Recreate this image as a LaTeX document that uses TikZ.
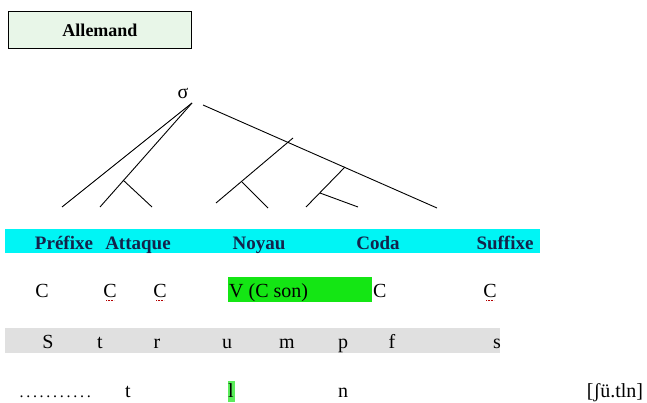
\documentclass[tikz,border=0pt]{standalone}
\usepackage{fontspec}
\setmainfont{Liberation Serif}
\definecolor{navy}{RGB}{20,35,75}
\definecolor{barcyan}{RGB}{0,245,245}
\definecolor{noyaugreen}{RGB}{20,230,20}
\definecolor{bargrey}{RGB}{224,224,224}
\definecolor{titlegreen}{RGB}{232,246,232}

\begin{document}
\begin{tikzpicture}[x=1pt,y=-1pt,
  lab/.style={font=\bfseries\fontsize{19}{22}\selectfont, text=navy, inner sep=0pt, anchor=base},
  seg/.style={font=\fontsize{20}{23}\selectfont, inner sep=0pt, anchor=base},
  branche/.style={line width=0.9pt, black}]
  \useasboundingbox (0,0) rectangle (647,403);

  % titre
  \node[draw, line width=1.2pt, fill=titlegreen, minimum width=183pt, minimum height=37pt,
        font=\bfseries\fontsize{18}{21}\selectfont] (titre) at (100,30) {Allemand};

  % arbre
  \node[seg] (sigma) at (183,99) {σ};
  \coordinate (s1) at (192,103);
  \coordinate (s2) at (203,105);
  \coordinate (pre) at (62,207);
  \coordinate (att) at (100,207);
  \coordinate (b1) at (123,180);
  \coordinate (att2) at (152,207);
  \coordinate (rime) at (437,208);
  \coordinate (n0) at (293,138);
  \coordinate (noy) at (216,203);
  \coordinate (b2) at (242,182);
  \coordinate (noy2) at (268,208);
  \coordinate (b3) at (345,167);
  \coordinate (cod) at (306,207);
  \coordinate (b4) at (320,193);
  \coordinate (cod2) at (358,207);
  \draw[branche] (s1) -- (pre);
  \draw[branche] (s1) -- (att);
  \draw[branche] (b1) -- (att2);
  \draw[branche] (s2) -- (rime);
  \draw[branche] (n0) -- (noy);
  \draw[branche] (b2) -- (noy2);
  \draw[branche] (b3) -- (cod);
  \draw[branche] (b4) -- (cod2);

  % constituants
  \fill[barcyan] (5,229) rectangle (540,253);
  \node[lab] (prefixe) at (64,249) {Préfixe};
  \node[lab] (attaque) at (138,249) {Attaque};
  \node[lab] (noyau) at (259,249) {Noyau};
  \node[lab] (coda) at (378,249) {Coda};
  \node[lab] (suffixe) at (505,249) {Suffixe};

  % squelette
  \fill[noyaugreen] (228,277) rectangle (372,302);
  \node[seg] (c1) at (42,297) {C};
  \node[seg] (c2) at (110,297) {C};
  \node[seg] (c3) at (160,297) {C};
  \node[seg, anchor=base west] (v) at (229,297) {V (C son)};
  \node[seg, anchor=base west] (c4) at (373,297) {C};
  \node[seg] (c5) at (490,297) {C};
  \foreach \c in {c2,c3,c5}
    \draw[red!70!black, densely dotted, line width=0.6pt]
      ([xshift=-4pt,yshift=-3pt]\c.base) -- ([xshift=4pt,yshift=-3pt]\c.base);

  % segments
  \fill[bargrey] (5,328) rectangle (500,353);
  \foreach \x/\l/\n in {48/S/sa, 100/t/sb, 157/r/sc, 227/u/sd, 287/m/se, 343/p/sf, 392/f/sg, 497/s/sh}
    \node[seg] (\n) at (\x,348) {\l};

  % forme
  \fill[noyaugreen!70] (228,381) rectangle (235,402);
  \node[seg, anchor=base west, font=\fontsize{16}{19}\selectfont] (points) at (18,397)
    {\hbox to 74pt{\xleaders\hbox to 6.7pt{\hss.\hss}\hfill}};
  \node[seg] (ft) at (128,397) {t};
  \node[seg] (fl) at (231,397) {l};
  \node[seg] (fn) at (343,397) {n};
  \node[seg] (transcr) at (615,397) {[ʃü.tln]};
\end{tikzpicture}
\end{document}
